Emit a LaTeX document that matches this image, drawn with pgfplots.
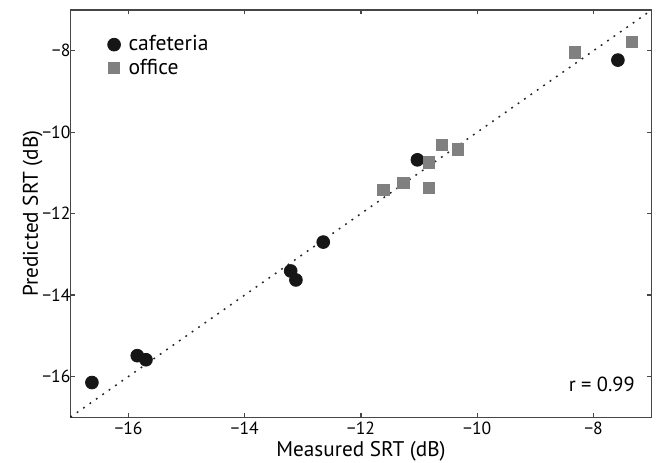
\documentclass[border=0pt]{standalone}
\usepackage{fontspec}
\setmainfont{PT Sans}
\usepackage{pgfplots}
\pgfplotsset{compat=1.18}
\usetikzlibrary{calc}

\definecolor{office}{RGB}{128,128,128}
\definecolor{cafe}{RGB}{22,22,22}
\definecolor{axline}{RGB}{70,70,70}

\begin{document}
\begin{tikzpicture}
\begin{axis}[
  scale only axis,
  width=290.5pt, height=203.5pt,
  xmin=-17, xmax=-7, ymin=-17, ymax=-7,
  xtick={-16,-14,-12,-10,-8},
  xticklabels={−16,−14,−12,−10,−8},
  ytick={-16,-14,-12,-10,-8},
  yticklabels={−16,−14,−12,−10,−8},
  tick align=inside,
  major tick length=2.2pt,
  axis line style={axline, line width=0.6pt},
  every tick/.style={axline, line width=0.6pt},
  tick label style={font=\fontsize{8.8}{10}\selectfont, black},
  yticklabel style={xshift=3.5pt},
  xticklabel style={yshift=1pt},
  xlabel={Measured SRT (dB)},
  ylabel={Predicted SRT (dB)},
  label style={font=\fontsize{10.6}{12}\selectfont},
  xlabel style={yshift=3.5pt},
  ylabel style={yshift=-7pt},
  legend style={draw=none, fill=none, at={(0.06,0.958)}, anchor=north west,
    font=\fontsize{10.8}{12}\selectfont, row sep=-1.5pt, column sep=2pt, inner xsep=1pt},
  legend cell align=left,
  clip=false,
]
\addplot[only marks, mark=*, mark size=3.2pt, color=cafe] coordinates {
  (-16.63,-16.15) (-15.85,-15.49) (-15.70,-15.59)
  (-13.21,-13.41) (-13.12,-13.63) (-12.65,-12.70)
  (-11.03,-10.68) (-7.58,-8.23)
};
\addlegendentry{cafeteria}
\addplot[only marks, mark=square*, mark size=2.9pt, color=office] coordinates {
  (-11.62,-11.42) (-11.27,-11.25) (-10.83,-11.37) (-10.83,-10.74)
  (-10.61,-10.31) (-10.33,-10.43) (-8.32,-8.04) (-7.34,-7.78)
};
\addlegendentry{office}
\addplot[black!85, line width=0.75pt, dash pattern=on 0.9pt off 3pt, forget plot]
  coordinates {(-17,-17) (-7,-7)};
\node[anchor=east, font=\fontsize{10.2}{12}\selectfont] at (rel axis cs:0.983,0.081) {r = 0.99};
\end{axis}
\pgfresetboundingbox
\path[use as bounding box] ($(current axis.south west)+(-35.2pt,-22.5pt)$)
  rectangle ($(current axis.north east)+(2.2pt,5pt)$);
\end{tikzpicture}
\end{document}
